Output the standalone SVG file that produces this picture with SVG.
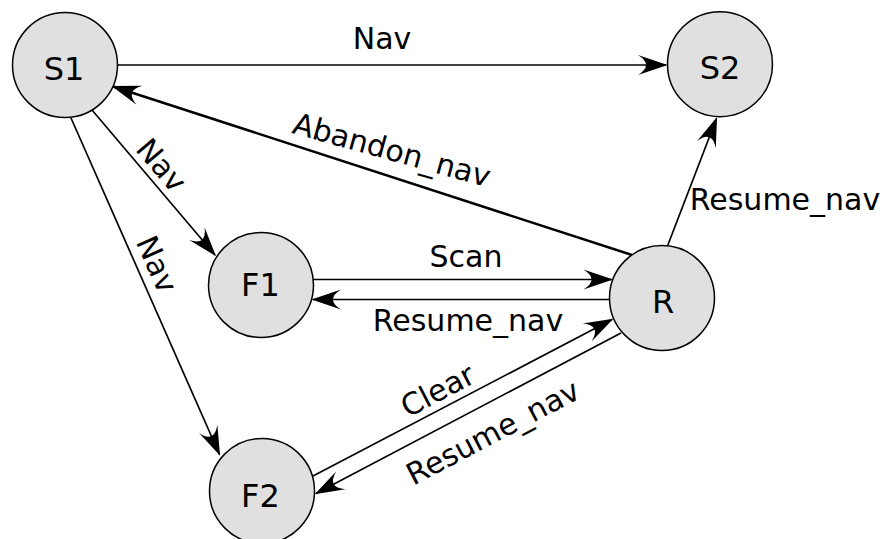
<svg xmlns="http://www.w3.org/2000/svg" width="887" height="539" viewBox="0 0 887 539">
<style>
  .node circle { fill: #e0e0e0; stroke: #000; stroke-width: 1.5; }
  .node text { font-family: "DejaVu Sans", sans-serif; font-size: 32px; text-anchor: middle; fill: #000; }
  .edge { fill: none; stroke: #000; stroke-width: 1.7; marker-end: url(#arr); }
  .thick { stroke-width: 2.5; }
  .lbl { font-family: "DejaVu Sans", sans-serif; font-size: 30px; text-anchor: middle; fill: #000; }
</style>
<defs>
  <marker id="arr" markerUnits="userSpaceOnUse" markerWidth="40" markerHeight="30" viewBox="-30 -15 40 30" refX="0" refY="0" orient="auto" overflow="visible">
    <path d="M1.5,0 L-28,-10 Q-12,0 -28,10 Z" fill="#000"/>
  </marker>
</defs>
<rect width="887" height="539" fill="#fff"/>
<g id="connectors">
  <line class="edge" x1="117.5" y1="65" x2="666" y2="65"/>
  <line class="edge thick" x1="632" y1="255" x2="113" y2="86.5"/>
  <line class="edge" x1="92" y1="110" x2="215" y2="255"/>
  <line class="edge" x1="71" y1="118" x2="219.5" y2="454.5"/>
  <line class="edge" x1="313" y1="279.5" x2="611.5" y2="279.5"/>
  <line class="edge" x1="610.5" y1="299.5" x2="313" y2="299.5"/>
  <line class="edge" x1="313" y1="476" x2="612" y2="319.5"/>
  <line class="edge" x1="621" y1="333" x2="316" y2="493.5"/>
  <line class="edge" x1="667.5" y1="246" x2="716.5" y2="118.5"/>
  <text class="lbl" x="382" y="49">Nav</text>
  <text class="lbl" transform="translate(389,160) rotate(15.5)">Abandon_nav</text>
  <text class="lbl" transform="translate(153.6,172) rotate(49.5)">Nav</text>
  <text class="lbl" transform="translate(147.4,268.5) rotate(66)">Nav</text>
  <text class="lbl" x="466" y="267">Scan</text>
  <text class="lbl" x="468" y="331">Resume_nav</text>
  <text class="lbl" transform="translate(442.4,399.7) rotate(-27.6)">Clear</text>
  <text class="lbl" transform="translate(497.6,441.4) rotate(-27.7)">Resume_nav</text>
  <text class="lbl" x="785" y="210">Resume_nav</text>
</g>
<g id="S1" class="node"><circle cx="65" cy="65" r="52.5"/><text x="64" y="79.5">S1</text></g>
<g id="S2" class="node"><circle cx="720" cy="64.2" r="52.5"/><text x="720" y="78.5">S2</text></g>
<g id="F1" class="node"><circle cx="261" cy="285" r="52.5"/><text x="260.5" y="296">F1</text></g>
<g id="R" class="node"><circle cx="662" cy="298" r="52.5"/><text x="663" y="312.5">R</text></g>
<g id="F2" class="node"><circle cx="262" cy="491" r="52.5"/><text x="260.5" y="506.5">F2</text></g>
</svg>
